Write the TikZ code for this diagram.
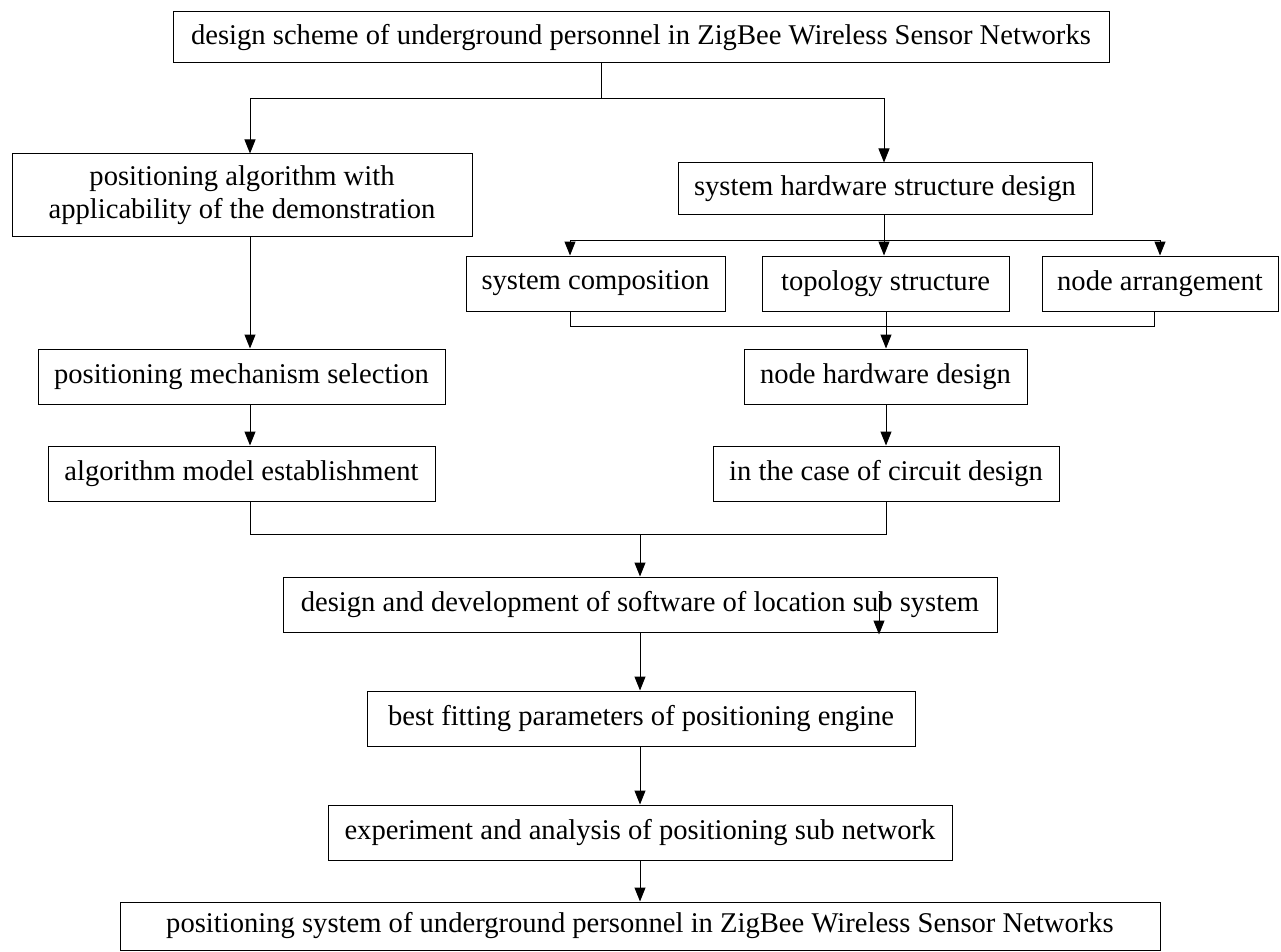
\documentclass[tikz,border=0pt]{standalone}
\usepackage{fontspec}
\setmainfont{Liberation Serif}
\usepackage{tikz}
\usetikzlibrary{calc, positioning, arrows.meta}

\begin{document}
\begin{tikzpicture}[
  x=1pt, y=-1pt,
  >={Triangle[length=14pt, width=11pt]},
  line width=1pt,
  box/.style={draw, line width=1pt, inner sep=0pt, minimum height=55pt,
              minimum width=#1, align=center,
              font=\fontsize{28.6pt}{33pt}\selectfont},
  box/.default=200pt
]
\useasboundingbox (0,0) rectangle (1281,952);

% ---------- Boites ----------
\node[box=936pt, minimum height=51pt] (top) at (641,37.5)
  {design scheme of underground personnel in ZigBee Wireless Sensor Networks};
\node[box=460pt, minimum height=82pt] (demo) at (242,195)
  {positioning algorithm with\\applicability of the demonstration};
\node[box=414pt, minimum height=51pt] (hwstruct) at (885,188.5)
  {system hardware structure design};

\node[box=259pt] (syscomp) at (595.5,283.5) {system composition};
\node[box=247pt] (topo)    at (885.5,283.5) {topology structure};
\node[box=236pt] (nodearr) at (1160,283.5)  {node arrangement};

\node[box=407pt] (mech)    at (241.5,376.5) {positioning mechanism selection};
\node[box=283pt] (nodehw)  at (885.5,376.5) {node hardware design};
\node[box=387pt] (model)   at (241.5,473.5) {algorithm model establishment};
\node[box=346pt] (circuit) at (886,473.5)   {in the case of circuit design};

\node[box=714pt]  (soft)       at (640,604.5) {design and development of software of location sub system};
\node[box=548pt]  (engine)     at (641,718.5) {best fitting parameters of positioning engine};
\node[box=624pt]  (experiment) at (640,832.5) {experiment and analysis of positioning sub network};
\node[box=1040pt, minimum height=48pt] (final) at (640,926)
  {positioning system of underground personnel in ZigBee Wireless Sensor Networks};

% ---------- Branches du haut ----------
\coordinate (stem) at (601,99);
\coordinate (busL) at (250,99);
\coordinate (busR) at (884,99);
\draw (top.south -| stem) -- (stem);
\draw[->] (stem) -- (busL) -- (busL |- demo.north);
\draw[->] (stem) -- (busR) -- (busR |- hwstruct.north);

% ---------- Structure materielle ----------
\coordinate (hwbus) at (884,240);
\coordinate (b2L) at (570,240);
\coordinate (b2R) at (1160,240);
\draw (hwstruct.south -| hwbus) -- (hwbus);
\draw[->] (hwbus) -- (b2L) -- (b2L |- syscomp.north);
\draw[->] (hwbus) -- (hwbus |- topo.north);
\draw[->] (hwbus) -- (b2R) -- (b2R |- nodearr.north);

\coordinate (m1) at (570,326);
\coordinate (m2) at (886,326);
\coordinate (m3) at (1154,326);
\draw (syscomp.south -| m1) -- (m1) -- (m3) -- (nodearr.south -| m3);
\draw (topo.south -| m2) -- (m2);
\draw[->] (m2) -- (m2 |- nodehw.north);
\draw[->] (nodehw.south -| m2) -- (circuit.north -| m2);

% ---------- Colonne algorithme ----------
\coordinate (lcol) at (250,0);
\draw[->] (demo.south -| lcol) -- (mech.north -| lcol);
\draw[->] (mech.south -| lcol) -- (model.north -| lcol);

% ---------- Jonction vers le logiciel ----------
\coordinate (j1) at (250,534);
\coordinate (j2) at (886,534);
\coordinate (j0) at (640,534);
\draw (model.south -| j1) -- (j1) -- (j2) -- (circuit.south -| j2);
\draw[->] (j0) -- (soft.north -| j0);

\coordinate (stray) at (879,594);
\draw[->] (stray) -- ([yshift=-2pt]soft.south -| stray);

% ---------- Suite verticale ----------
\draw[->] (soft.south -| j0) -- (engine.north -| j0);
\draw[->] (engine.south -| j0) -- (experiment.north -| j0);
\draw[->] (experiment.south -| j0) -- (final.north -| j0);

\end{tikzpicture}
\end{document}
